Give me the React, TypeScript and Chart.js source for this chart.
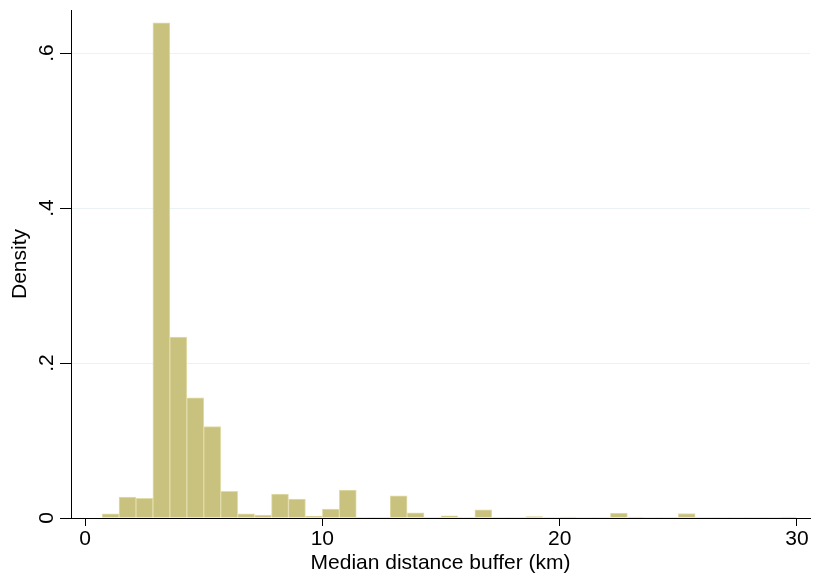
import React, { useEffect, useRef } from "react";
import { Chart, registerables } from "chart.js";

Chart.register(...registerables);

// Histogram bins: first bin starts at binStart, each bin is binWidth km wide
const binStart = 0.72;
const binWidth = 0.714;
const densities = [
  0.0055, 0.027, 0.0253, 0.639, 0.2335, 0.155, 0.118, 0.0343, 0.0055, 0.0039,
  0.031, 0.0245, 0.0026, 0.0116, 0.036, 0, 0, 0.0285, 0.0067, 0,
  0.0028, 0, 0.0107, 0, 0, 0.0017, 0, 0.0013, 0, 0,
  0.0063, 0.0013, 0, 0, 0.0058, 0, 0, 0, 0, 0,
  0.0013,
];
const xTicks = [0, 10, 20, 30];
const xTickLabels = ["0", "10", "20", "30"];
const yTicks = [0, 0.2, 0.4, 0.6];
const yTickLabels = ["0", ".2", ".4", ".6"];
const xTitle = "Median distance buffer (km)";
const yTitle = "Density";

const FONT = "Arial, 'Liberation Sans', sans-serif";

function labelFor(values: number[], labels: string[], v: number) {
  const i = values.findIndex((t) => Math.abs(t - v) < 1e-9);
  return i >= 0 ? labels[i] : "";
}

export default function App() {
  const ref = useRef<HTMLCanvasElement | null>(null);
  useEffect(() => {
    if (!ref.current) return;
    const points = densities.map((d, i) => ({
      x: binStart + (i + 0.5) * binWidth,
      y: d,
    }));
    const chart = new Chart(ref.current, {
      type: "bar",
      data: {
        datasets: [
          {
            data: points as any,
            backgroundColor: "#c9c27e",
            borderColor: "#e2dcaa",
            borderWidth: (c: any) => (c.raw && c.raw.y > 0 ? 1 : 0),
            borderSkipped: "bottom",
            barPercentage: 1,
            categoryPercentage: 1,
          },
        ],
      },
      options: {
        animation: false,
        responsive: false,
        devicePixelRatio: 1,
        layout: { padding: { top: 10, right: 3, left: 0, bottom: 0 } },
        plugins: { legend: { display: false }, tooltip: { enabled: false } },
        scales: {
          x: {
            type: "linear",
            offset: false,
            min: -0.59,
            max: 30.55,
            afterBuildTicks: (s: any) => {
              s.ticks = xTicks.map((v) => ({ value: v }));
            },
            afterFit: (s: any) => {
              s.height = 63;
              s.paddingLeft = 0;
              s.paddingRight = 0;
            },
            grid: {
              offset: false,
              drawOnChartArea: false,
              drawTicks: true,
              tickLength: 8,
              tickColor: "#000",
              tickWidth: 1,
            },
            border: { display: true, color: "#000", width: 1, z: 1 },
            ticks: {
              padding: 1,
              color: "#000",
              font: { family: FONT, size: 21 },
              maxRotation: 0,
              minRotation: 0,
              autoSkip: false,
              callback: (v: any) => labelFor(xTicks, xTickLabels, Number(v)),
            },
            title: {
              display: true,
              text: xTitle,
              color: "#000",
              font: { family: FONT, size: 21 },
              padding: { top: 0, bottom: 5 },
            },
          },
          y: {
            type: "linear",
            min: 0,
            max: 0.6555,
            afterBuildTicks: (s: any) => {
              s.ticks = yTicks.map((v) => ({ value: v }));
            },
            afterFit: (s: any) => {
              s.width = 71;
              s.paddingTop = 0;
              s.paddingBottom = 0;
            },
            grid: {
              drawOnChartArea: true,
              color: (c: any) => (c.tick && c.tick.value === 0 ? "rgba(0,0,0,0)" : "#eaf2f3"),
              tickColor: "#000",
              tickLength: 11,
              lineWidth: 1,
            },
            border: { display: true, color: "#000", width: 1, z: 1 },
            ticks: {
              padding: 4,
              color: "#000",
              font: { family: FONT, size: 21 },
              minRotation: 90,
              maxRotation: 90,
              crossAlign: "center",
              autoSkip: false,
              callback: (v: any) => labelFor(yTicks, yTickLabels, Number(v)),
            },
            title: {
              display: true,
              text: yTitle,
              color: "#000",
              font: { family: FONT, size: 21 },
              padding: { top: 8, bottom: 0 },
            },
          },
        },
      },
    });
    return () => chart.destroy();
  }, []);
  return (
    <div style={{ position: "fixed", left: 0, top: 0, width: 813, height: 581, background: "#fff" }}>
      <canvas ref={ref} width={813} height={581} style={{ width: 813, height: 581 }} />
    </div>
  );
}
